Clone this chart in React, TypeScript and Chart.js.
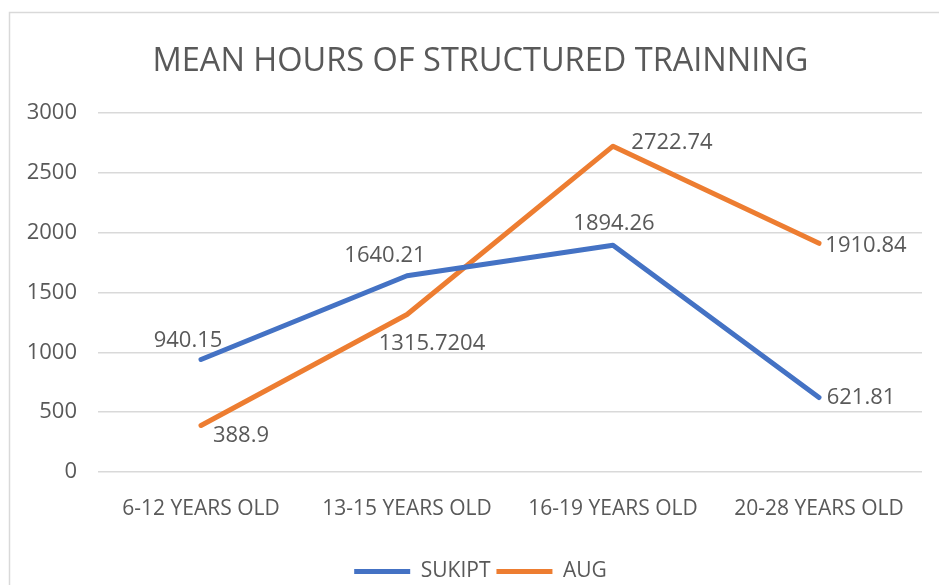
import React, { useEffect, useRef } from "react";
import { Chart, registerables } from "chart.js";

Chart.register(...registerables);

const TITLE = "MEAN HOURS OF STRUCTURED TRAINNING";
const categories = ["6-12 YEARS OLD", "13-15 YEARS OLD", "16-19 YEARS OLD", "20-28 YEARS OLD"];
const sukiptValues = [940.15, 1640.21, 1894.26, 621.81];
const augValues = [388.9, 1315.7204, 2722.74, 1910.84];
const seriesNames = ["SUKIPT", "AUG"];
const yMin = 0;
const yMax = 3000;
const yStep = 500;

const FONT = "'Open Sans', 'Noto Sans', sans-serif";
const TEXT = "#595959";
const GRID = "#d9d9d9";

const frameAndBg = {
  id: "frameAndBg",
  beforeDraw(chart: any) {
    const { ctx, width, height } = chart;
    ctx.save();
    ctx.fillStyle = "#ffffff";
    ctx.fillRect(0, 0, width, height);
    ctx.strokeStyle = GRID;
    ctx.lineWidth = 1.5;
    ctx.strokeRect(9.5, 12.5, width + 40, height + 40);
    ctx.restore();
  },
};

const valueLabels = {
  id: "valueLabels",
  afterDatasetsDraw(chart: any, _args: any, opts: any) {
    const ctx = chart.ctx;
    ctx.save();
    ctx.font = `${opts.size}px ${FONT}`;
    ctx.fillStyle = TEXT;
    ctx.textAlign = "center";
    ctx.textBaseline = "middle";
    chart.data.datasets.forEach((ds: any, di: number) => {
      const meta = chart.getDatasetMeta(di);
      meta.data.forEach((pt: any, i: number) => {
        const off = (opts.offsets[di] || [])[i] || [0, 0];
        ctx.fillText(String(ds.data[i]), pt.x + off[0], pt.y + off[1]);
      });
    });
    ctx.restore();
  },
};

export default function App() {
  const ref = useRef<HTMLCanvasElement | null>(null);

  useEffect(() => {
    if (!ref.current) return;
    const chart = new Chart(ref.current, {
      type: "line",
      data: {
        labels: categories,
        datasets: [
          {
            label: seriesNames[0],
            data: sukiptValues,
            borderColor: "#4472C4",
            backgroundColor: "#4472C4",
            borderWidth: 5,
            borderCapStyle: "round",
            borderJoinStyle: "round",
            pointRadius: 0,
            pointHoverRadius: 0,
            tension: 0,
            fill: false,
          },
          {
            label: seriesNames[1],
            data: augValues,
            borderColor: "#ED7D31",
            backgroundColor: "#ED7D31",
            borderWidth: 5,
            borderCapStyle: "round",
            borderJoinStyle: "round",
            pointRadius: 0,
            pointHoverRadius: 0,
            tension: 0,
            fill: false,
          },
        ],
      },
      options: {
        responsive: false,
        animation: false,
        events: [],
        layout: { padding: { left: 10, right: -12, top: 13, bottom: -7 } },
        scales: {
          x: {
            offset: true,
            grid: { display: false, drawTicks: false },
            border: { display: false },
            ticks: { color: TEXT, font: { family: FONT, size: 21 }, padding: 24, maxRotation: 0 },
            afterFit: (s: any) => {
              s.height = 83;
            },
          },
          y: {
            min: yMin,
            max: yMax,
            ticks: {
              stepSize: yStep,
              color: TEXT,
              font: { family: FONT, size: 22 },
              padding: 21,
              callback: (v: any) => String(v),
            },
            grid: { color: GRID, lineWidth: 1.5, drawTicks: false },
            border: { display: false },
            afterFit: (s: any) => {
              s.width = 88;
            },
          },
          y2: {
            type: "linear",
            position: "right",
            display: true,
            grid: { display: false, drawTicks: false },
            border: { display: false },
            ticks: { display: false },
            afterFit: (s: any) => {
              s.width = 29;
            },
          },
        },
        plugins: {
          title: {
            display: true,
            text: TITLE,
            color: TEXT,
            font: { family: FONT, size: 32.5, weight: "normal" },
            padding: { top: 29, bottom: 32 },
          },
          legend: {
            position: "bottom",
            labels: {
              color: TEXT,
              font: { family: FONT, size: 21 },
              usePointStyle: true,
              pointStyle: "line",
              pointStyleWidth: 56,
              boxHeight: 21,
              padding: 6,
            },
          },
          tooltip: { enabled: false },
          valueLabels: {
            size: 22,
            offsets: [
              [[-13, -19], [-22, -20], [1, -22], [42, 0]],
              [[40, 10], [25, 29], [59, -3], [47, 2]],
            ],
          },
        } as any,
      },
      plugins: [frameAndBg, valueLabels],
    });
    return () => chart.destroy();
  }, []);

  return (
    <div style={{ position: "absolute", left: 0, top: 0, width: 939, height: 585 }}>
      <canvas ref={ref} width={939} height={585} style={{ display: "block" }} />
    </div>
  );
}
